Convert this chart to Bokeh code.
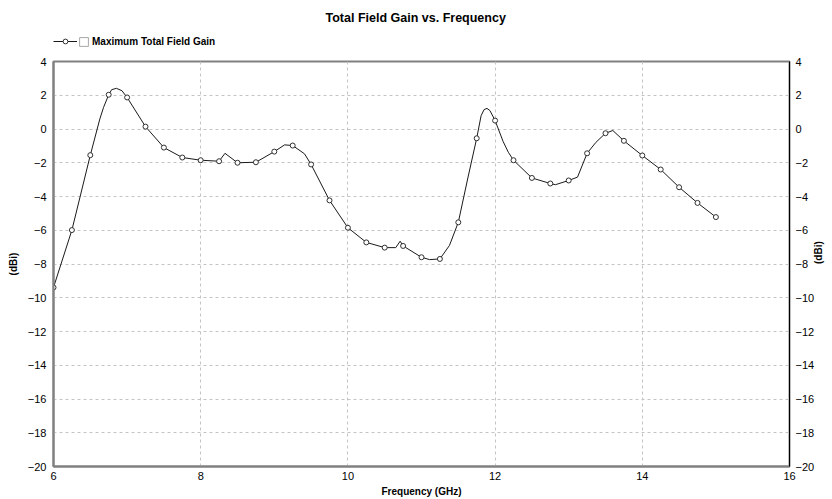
import math
from bokeh.plotting import figure
from bokeh.layouts import column
from bokeh.models import LinearAxis, FixedTicker, Legend, LegendItem, Range1d
from bokeh.embed import file_html
from bokeh.resources import INLINE

# ---- data ----
marker_freq = [6.00, 6.25, 6.50, 6.75, 7.00, 7.25, 7.50, 7.75, 8.00, 8.25, 8.50, 8.75,
               9.00, 9.25, 9.50, 9.75, 10.00, 10.25, 10.50, 10.75, 11.00, 11.25, 11.50,
               11.75, 12.00, 12.25, 12.50, 12.75, 13.00, 13.25, 13.50, 13.75, 14.00,
               14.25, 14.50, 14.75, 15.00]
marker_gain = [-9.39, -5.99, -1.55, 2.03, 1.87, 0.14, -1.10, -1.69, -1.85, -1.91, -2.00, -1.97,
               -1.34, -0.98, -2.10, -4.23, -5.85, -6.72, -7.03, -6.93, -7.60, -7.70, -5.53,
               -0.55, 0.50, -1.85, -2.90, -3.23, -3.05, -1.44, -0.25, -0.70, -1.57,
               -2.40, -3.45, -4.38, -5.22]

curve_freq = [6.00, 6.25, 6.50, 6.63, 6.68, 6.75, 6.79, 6.855, 6.93, 7.00, 7.25, 7.50, 7.75,
              8.00, 8.25, 8.33, 8.50, 8.75, 9.00, 9.14, 9.25, 9.41, 9.50, 9.75, 10.00, 10.25,
              10.50, 10.65, 10.71, 10.75, 11.00, 11.11, 11.25, 11.38, 11.50, 11.63, 11.75,
              11.81, 11.85, 11.89, 11.93, 12.00, 12.11, 12.18, 12.25, 12.50, 12.75, 12.82,
              13.00, 13.12, 13.25, 13.37, 13.50, 13.60, 13.75, 14.00, 14.25, 14.50, 14.75,
              15.00]
curve_gain = [-9.39, -5.99, -1.55, 0.60, 1.28, 2.03, 2.33, 2.41, 2.27, 1.87, 0.14, -1.10, -1.69,
              -1.85, -1.91, -1.44, -2.00, -1.97, -1.34, -0.94, -0.98, -1.47, -2.10, -4.23, -5.85,
              -6.72, -7.03, -7.03, -6.65, -6.93, -7.60, -7.74, -7.70, -6.90, -5.53, -2.90, -0.55,
              0.79, 1.15, 1.22, 1.09, 0.50, -0.75, -1.38, -1.85, -2.90, -3.23, -3.30,
              -3.05, -2.85, -1.44, -0.79, -0.25, -0.09, -0.70, -1.57, -2.40, -3.45, -4.38,
              -5.22]

x_ticks = [6, 8, 10, 12, 14, 16]
y_ticks = [4, 2, 0, -2, -4, -6, -8, -10, -12, -14, -16, -18, -20]

title_text = "Total Field Gain vs. Frequency"
series_name = "Maximum Total Field Gain"

FONT = "Liberation Sans"
LINE_COLOR = "#1a1a1a"
MARK_COLOR = "#303030"
NAN = float("nan")

# ---------------- header: title + legend ----------------
header = figure(width=832, height=53, output_backend="svg", toolbar_location=None,
                x_axis_type=None, y_axis_type=None, title=title_text,
                min_border_left=0, min_border_right=0, min_border_top=29, min_border_bottom=0,
                background_fill_color="white", border_fill_color="white")
header.outline_line_color = None
header.title.text_font = FONT
header.title.text_font_size = "12.5px"
header.title.text_font_style = "bold"
header.title.text_color = "black"
header.title.align = "left"
header.title.offset = 272
header.title.standoff = 10

# legend-only renderers (no visible data)
h_line = header.line(x=[NAN], y=[NAN], line_color=LINE_COLOR, line_width=1)
h_pts = header.scatter(x=[NAN], y=[NAN], marker="circle", fill_color="white",
                       line_color=MARK_COLOR, line_width=1)
h_box = header.quad(left=[NAN], right=[NAN], top=[NAN], bottom=[NAN], fill_color="white",
                    line_color="#a8a8a8", line_width=1)

leg_a = Legend(items=[LegendItem(label=" ", renderers=[h_line, h_pts])],
               location=(0, 6), orientation="horizontal")
leg_b = Legend(items=[LegendItem(label=series_name, renderers=[h_box])],
               location=(25, 6), orientation="horizontal")
for lg in (leg_a, leg_b):
    lg.margin = 0
    lg.padding = 0
    lg.label_text_font = FONT
    lg.label_text_font_size = "10px"
    lg.label_text_font_style = "bold"
    lg.label_text_color = "black"
    lg.label_height = 12
    lg.border_line_alpha = 0
    lg.background_fill_alpha = 0
leg_a.glyph_width = 24
leg_a.glyph_height = 12
leg_a.label_standoff = 0
leg_b.glyph_width = 11
leg_b.glyph_height = 11
leg_b.label_standoff = 3
header.add_layout(leg_a)
header.add_layout(leg_b)

# ---------------- main chart ----------------
p = figure(width=832, height=446, output_backend="svg", toolbar_location=None,
           x_range=Range1d(6, 16), y_range=Range1d(-20, 4),
           min_border_left=53, min_border_right=36, min_border_top=8, min_border_bottom=32,
           background_fill_color="white", border_fill_color="white")
p.title.text = ""

p.outline_line_color = "#808080"
p.outline_line_width = 2

for ax in (p.xaxis[0], p.yaxis[0]):
    ax.axis_line_color = "#808080"
    ax.axis_line_width = 2
    ax.major_tick_out = 0
    ax.major_tick_in = 0
    ax.minor_tick_out = 0
    ax.minor_tick_in = 0
    ax.major_label_text_font = FONT
    ax.major_label_text_font_size = "11px"
    ax.major_label_text_color = "black"
    ax.axis_label_text_font = FONT
    ax.axis_label_text_font_size = "10px"
    ax.axis_label_text_font_style = "bold"
    ax.axis_label_text_color = "black"

p.xaxis[0].ticker = FixedTicker(ticks=x_ticks)
p.yaxis[0].ticker = FixedTicker(ticks=y_ticks)
p.xaxis[0].axis_label = "Frequency (GHz)"
p.xaxis[0].major_label_standoff = 5
p.xaxis[0].axis_label_standoff = 3
p.yaxis[0].axis_label = "(dBi)"
p.yaxis[0].major_label_standoff = 7
p.yaxis[0].axis_label_standoff = 6

right = LinearAxis(ticker=FixedTicker(ticks=y_ticks), axis_label="(dBi)")
right.axis_line_color = "black"
right.axis_line_width = 1
right.major_tick_out = 0
right.major_tick_in = 0
right.minor_tick_out = 0
right.minor_tick_in = 0
right.major_label_standoff = 6
right.axis_label_standoff = 1
right.axis_label_orientation = math.pi / 2
right.major_label_text_font = FONT
right.major_label_text_font_size = "11px"
right.major_label_text_color = "black"
right.axis_label_text_font = FONT
right.axis_label_text_font_size = "10px"
right.axis_label_text_font_style = "bold"
right.axis_label_text_color = "black"
p.add_layout(right, "right")

p.xgrid.ticker = FixedTicker(ticks=x_ticks)
p.ygrid.ticker = FixedTicker(ticks=y_ticks)
for g in (p.xgrid[0], p.ygrid[0]):
    g.grid_line_color = "#c4c4c4"
    g.grid_line_dash = "3 3"
    g.grid_line_width = 1

p.line(curve_freq, curve_gain, line_color=LINE_COLOR, line_width=1)
p.scatter(marker_freq, marker_gain, marker="circle", size=5,
          fill_color="white", line_color=MARK_COLOR, line_width=1)

layout = column(header, p, spacing=0)
open("out.html", "w").write(file_html(layout, INLINE))
